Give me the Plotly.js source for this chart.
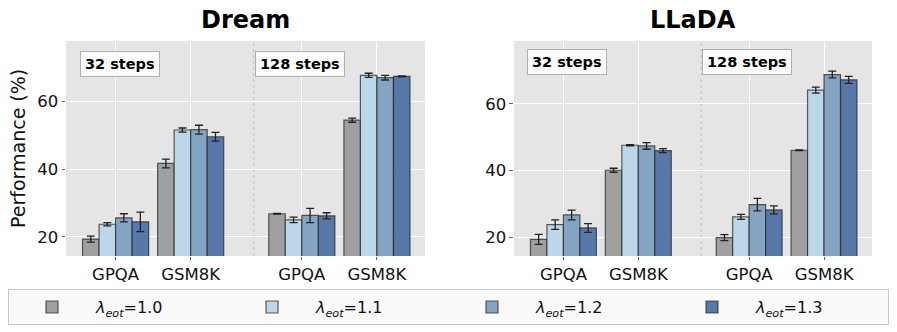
<!DOCTYPE html>
<html>
<head>
<meta charset="utf-8">
<script src="https://cdn.plot.ly/plotly-3.0.1.min.js"></script>
<style>
  body { margin: 0; background: #fff; }
  #chart { width: 897px; height: 332px; }
</style>
</head>
<body>
<div id="chart"></div>
<script>
// group positions on the x axis (32 steps: GPQA, GSM8K / 128 steps: GPQA, GSM8K)
var groupX = [0, 1, 2.48, 3.48];
var groupLabels = ['GPQA', 'GSM8K', 'GPQA', 'GSM8K'];
var separatorX = 1.84;

var lambdas = ['1.0', '1.1', '1.2', '1.3'];
var barColors = ['#a0a0a0', '#bdd7ea', '#84a4c4', '#5778a9'];

// Dream: one array per lambda, order = groupX
var dreamMean = [
  [19.3, 41.7, 26.8, 54.5],
  [23.7, 51.6, 25.0, 67.8],
  [25.6, 51.7, 26.3, 67.1],
  [24.4, 49.6, 26.2, 67.5]
];
var dreamErr = [
  [0.9, 1.3, 0.1, 0.6],
  [0.5, 0.6, 0.8, 0.6],
  [1.2, 1.3, 2.1, 0.7],
  [2.9, 1.3, 0.9, 0.15]
];

// LLaDA
var lladaMean = [
  [19.4, 40.1, 19.9, 46.1],
  [23.8, 47.6, 26.1, 64.1],
  [26.7, 47.4, 29.8, 68.8],
  [22.8, 46.0, 28.2, 67.2]
];
var lladaErr = [
  [1.5, 0.6, 0.9, 0.1],
  [1.4, 0.15, 0.75, 0.9],
  [1.45, 1.0, 1.85, 1.0],
  [1.3, 0.6, 1.2, 1.05]
];

var traces = [];

function addPanel(means, errs, xa, ya, showLeg) {
  for (var i = 0; i < lambdas.length; i++) {
    traces.push({
      type: 'bar',
      x: groupX,
      y: means[i],
      xaxis: xa,
      yaxis: ya,
      name: '<i>λ</i><sub><i>eot</i></sub>=' + lambdas[i],
      legendgroup: 'l' + i,
      showlegend: showLeg,
      marker: {
        color: barColors[i],
        line: { color: 'rgba(40,40,40,0.75)', width: 1.2 }
      },
      error_y: {
        type: 'data',
        array: errs[i],
        visible: true,
        color: '#222',
        thickness: 1.3,
        width: 4
      },
      hoverinfo: 'y'
    });
  }
}

addPanel(dreamMean, dreamErr, 'x', 'y', true);
addPanel(lladaMean, lladaErr, 'x2', 'y2', false);

var tickFont = { family: 'DejaVu Sans, sans-serif', size: 16.5, color: '#111' };

function xAxis(dom, anchor) {
  return {
    domain: dom,
    anchor: anchor,
    range: [-0.66, 4.12],
    tickvals: groupX,
    ticktext: groupLabels,
    tickfont: tickFont,
    showgrid: true,
    gridcolor: '#ffffff',
    gridwidth: 1,
    zeroline: false,
    showline: false,
    ticks: 'outside',
    ticklen: 3.5,
    tickcolor: '#666',
    tickwidth: 1
  };
}

function yAxis(dom, anchor, rng) {
  return {
    domain: dom,
    anchor: anchor,
    range: rng,
    tickvals: [20, 40, 60],
    tickfont: tickFont,
    showgrid: true,
    gridcolor: '#ffffff',
    gridwidth: 1,
    zeroline: false,
    showline: false,
    ticks: 'outside',
    ticklen: 3.5,
    tickcolor: '#666',
    tickwidth: 1
  };
}

var yDom = [0.229, 0.877];

function stepsBox(xref, yref, xpos, ypos, txt) {
  return {
    xref: xref, yref: yref, x: xpos, y: ypos,
    xanchor: 'center', yanchor: 'middle',
    text: '<b>' + txt + '</b>', showarrow: false,
    font: { family: 'DejaVu Sans, sans-serif', size: 14.5, color: '#000' },
    bgcolor: 'rgba(255,255,255,0.85)',
    bordercolor: '#b0b0b0', borderwidth: 1, borderpad: 4
  };
}

var layout = {
  width: 897,
  height: 332,
  margin: { l: 0, r: 0, t: 0, b: 0 },
  paper_bgcolor: '#ffffff',
  plot_bgcolor: '#e5e5e5',
  barmode: 'group',
  bargap: 0.12,
  bargroupgap: 0,
  font: { family: 'DejaVu Sans, sans-serif', color: '#000' },
  xaxis: xAxis([0.0736, 0.4738], 'y'),
  yaxis: Object.assign(yAxis(yDom, 'x', [14.3, 78]), {
    title: { text: 'Performance (%)', font: { size: 19, color: '#111' }, standoff: 6 }
  }),
  xaxis2: xAxis([0.5730, 0.9721], 'y2'),
  yaxis2: yAxis(yDom, 'x2', [14.4, 78.9]),
  showlegend: true,
  legend: {
    orientation: 'h',
    x: 0.5, xanchor: 'center',
    y: 0.075, yanchor: 'middle',
    bgcolor: 'rgba(250,250,250,0.95)',
    bordercolor: '#c8c8c8',
    borderwidth: 1,
    entrywidth: 127,
    itemwidth: 78,
    font: { family: 'DejaVu Sans, sans-serif', size: 16, color: '#111' }
  },
  annotations: [
    { xref: 'x domain', yref: 'paper', x: 0.5, y: 0.94, xanchor: 'center', yanchor: 'middle',
      text: '<b>Dream</b>', showarrow: false,
      font: { family: 'DejaVu Sans, sans-serif', size: 24, color: '#000' } },
    { xref: 'x2 domain', yref: 'paper', x: 0.5, y: 0.94, xanchor: 'center', yanchor: 'middle',
      text: '<b>LLaDA</b>', showarrow: false,
      font: { family: 'DejaVu Sans, sans-serif', size: 24, color: '#000' } },
    stepsBox('x domain', 'y domain', 0.149, 0.893, '32 steps'),
    stepsBox('x domain', 'y domain', 0.652, 0.893, '128 steps'),
    stepsBox('x2 domain', 'y2 domain', 0.147, 0.9, '32 steps'),
    stepsBox('x2 domain', 'y2 domain', 0.652, 0.9, '128 steps')
  ],
  shapes: [
    { type: 'line', xref: 'x', yref: 'y domain', x0: separatorX, x1: separatorX, y0: 0, y1: 1,
      line: { color: '#c0c0c0', width: 1, dash: 'dot' }, layer: 'below' },
    { type: 'line', xref: 'x2', yref: 'y2 domain', x0: separatorX, x1: separatorX, y0: 0, y1: 1,
      line: { color: '#c0c0c0', width: 1, dash: 'dot' }, layer: 'below' }
  ]
};

Plotly.newPlot('chart', traces, layout, { displayModeBar: false, staticPlot: true });
</script>
</body>
</html>
